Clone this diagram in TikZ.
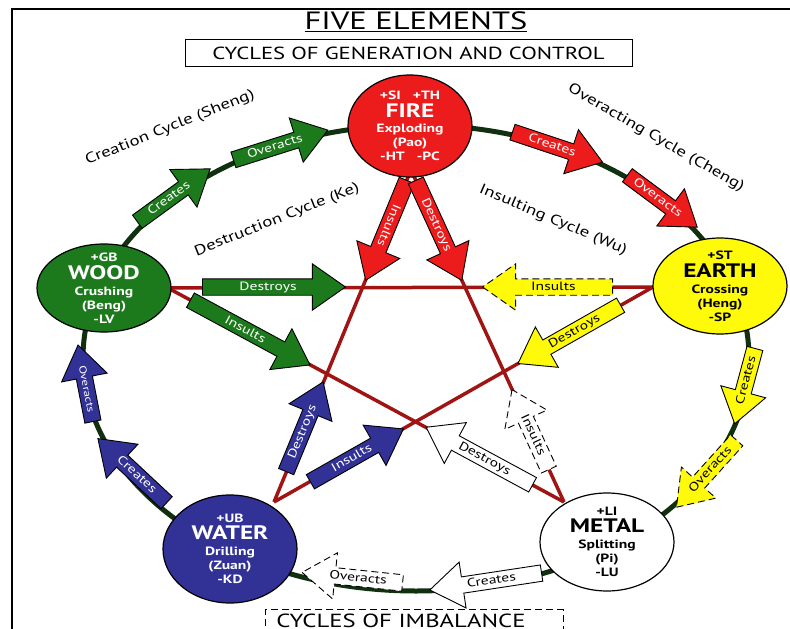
\documentclass[tikz,border=0pt]{standalone}
\usepackage{fontspec}
\setmainfont[FakeStretch=1.3]{PT Sans}
\usetikzlibrary{shapes.geometric,shapes.arrows}

\definecolor{woodgreen}{RGB}{28,122,28}
\definecolor{firered}{RGB}{236,28,28}
\definecolor{earthyellow}{RGB}{255,250,10}
\definecolor{waterblue}{RGB}{50,50,150}
\definecolor{starred}{RGB}{160,20,20}
\definecolor{ringgreen}{RGB}{16,48,16}

\begin{document}
\begin{tikzpicture}[x=1pt,y=-1pt]

    %--- Styles
    \tikzstyle{element}=[ellipse, draw=black, line width=1.2pt, inner sep=0pt]
    \tikzstyle{elem text}=[align=center, font=\bfseries\fontsize{12}{14}\selectfont]
    \tikzstyle{flow}=[single arrow, draw=black, line width=0.9pt, anchor=tail,
        single arrow tip angle=70, single arrow head extend=15pt,
        inner xsep=3pt, inner ysep=1.5pt, text height=9.5pt, text depth=3pt,
        font=\fontsize{12}{12}\selectfont]
    \tikzstyle{tipback}=[shape border rotate=180]
    \tikzstyle{imbalance}=[dash pattern=on 7pt off 4pt]
    \tikzstyle{cycle label}=[font=\fontsize{14.5}{14.5}\selectfont]
    \tikzstyle{star line}=[starred, line width=3.5pt]
    \tikzstyle{ring line}=[ringgreen, line width=5pt]

    \useasboundingbox (0,0) rectangle (790,629);

    %--- Frame and titles
    \draw[line width=1.2pt] (12,640) -- (12,9) -- (790,9);
    \node[font=\fontsize{25}{25}\selectfont] (title) at (416,22) {\underline{FIVE ELEMENTS}};
    \node[draw, line width=1pt, minimum width=447pt, minimum height=27pt,
          font=\fontsize{17.5}{17.5}\selectfont] (generation) at (408.5,53) {CYCLES OF GENERATION AND CONTROL};
    \node[draw, imbalance, line width=1pt, minimum width=298pt, minimum height=22pt,
          font=\fontsize{19}{19}\selectfont] (imbalance box) at (414,620.5) {CYCLES OF IMBALANCE\hspace*{26pt}};

    %--- Outer ring
    \coordinate (ring) at (416,358);
    \draw[ring line] (ring) ellipse [x radius=333pt, y radius=233pt];

    %--- Star points
    \coordinate (sF)  at (411,170);
    \coordinate (sWd) at (168,288);
    \coordinate (sE)  at (653,287);
    \coordinate (sWt) at (274,502);
    \coordinate (sM)  at (564,502);

    %--- Star
    \draw[star line] (sF) -- (sWt);
    \draw[star line] (sWt) -- (sE);
    \draw[star line] (sE) -- (sWd);
    \draw[star line] (sWd) -- (sM);
    \draw[star line] (sM) -- (sF);

    %--- Cycle names
    \node[cycle label, rotate=21.8] (sheng) at (170,128) {Creation Cycle (Sheng)};
    \node[cycle label, rotate=21.8] (ke)    at (277,220) {Destruction Cycle (Ke)};
    \node[cycle label, rotate=-30]  (cheng) at (656,138) {Overacting Cycle (Cheng)};
    \node[cycle label, rotate=-23]  (wu)    at (553,220) {Insulting Cycle (Wu)};

    %--- Wood arrows
    \node[flow, fill=woodgreen, text=white, rotate=36,    minimum height=90pt]  (gCreates)  at (137,222) {Creates};
    \node[flow, fill=woodgreen, text=white, rotate=17.5,  minimum height=99pt]  (gOveracts) at (233,160) {Overacts};
    \node[flow, fill=woodgreen, text=white, rotate=0,     minimum height=143pt] (gDestroys) at (202,287) {Destroys};
    \node[flow, fill=woodgreen, text=white, rotate=-28.4, minimum height=136pt] (gInsults)  at (190,300) {Insults};

    %--- Fire arrows
    \node[flow, fill=firered, text=white, rotate=-18.4,  minimum height=95pt]  (rCreates)  at (512,132) {Creates};
    \node[flow, fill=firered, text=white, rotate=-36.6,  minimum height=87pt]  (rOveracts) at (627,175) {Overacts};
    \node[flow, fill=firered, text=white, rotate=-112.4, minimum height=108pt] (rInsults)  at (407,180) {Insults};
    \node[flow, fill=firered, text=white, rotate=-65.3,  minimum height=110pt] (rDestroys) at (415.6,180) {Destroys};

    %--- Water arrows
    \node[flow, tipback, fill=waterblue, text=white, rotate=-43, minimum height=94pt]  (bCreates)  at (167,503) {Creates};
    \node[flow, tipback, fill=waterblue, text=white, rotate=-79, minimum height=78pt,
          font=\fontsize{10}{10}\selectfont] (bOveracts) at (93,422) {Overacts};
    \node[flow, fill=waterblue, text=white, rotate=67.6, minimum height=97pt]  (bDestroys) at (286,472) {Destroys};
    \node[flow, fill=waterblue, text=white, rotate=29.6, minimum height=107pt] (bInsults)  at (310,482) {Insults};

    %--- Earth arrows
    \node[flow, tipback, imbalance, fill=earthyellow, rotate=0,    minimum height=130pt] (yInsults)  at (613,287) {Insults};
    \node[flow, tipback, fill=earthyellow,            rotate=29.6, minimum height=118pt] (yDestroys) at (621,305) {Destroys};
    \node[flow, tipback, fill=earthyellow,            rotate=75,   minimum height=78pt]  (yCreates)  at (755,348) {Creates};
    \node[flow, tipback, imbalance, fill=earthyellow, rotate=48,   minimum height=90pt]  (yOveracts) at (737,440) {Overacts};

    %--- Metal arrows
    \node[flow, tipback, imbalance, fill=white, rotate=-65.3, minimum height=88pt]  (mInsults)  at (549,470) {Insults};
    \node[flow, tipback, fill=white,            rotate=-28.4, minimum height=121pt] (mDestroys) at (533,485) {Destroys};
    \node[flow, tipback, fill=white,            rotate=8.6,   minimum height=113pt] (mCreates)  at (542,573) {Creates};
    \node[flow, tipback, imbalance, fill=white, rotate=-6,    minimum height=101pt] (mOveracts) at (403,583) {Overacts};

    %--- Elements
    \node[element, fill=firered, minimum width=124pt, minimum height=102pt,
          label={[elem text, text=white]center:{+SI\quad+TH\\[3pt]{\fontsize{19.5}{19.5}\selectfont FIRE}\\[1pt]Exploding\\(Pao)\\-HT\quad-PC}}] (fire) at (410,126) {};
    \node[element, fill=woodgreen, minimum width=134pt, minimum height=88pt,
          label={[elem text, text=white]center:{+GB\\[3pt]{\fontsize{19.5}{19.5}\selectfont WOOD}\\[2pt]Crushing\\(Beng)\\-LV}}] (wood) at (104,288) {};
    \node[element, fill=earthyellow, minimum width=134pt, minimum height=96pt,
          label={[elem text]center:{+ST\\[3pt]{\fontsize{19.5}{19.5}\selectfont EARTH}\\[2pt]Crossing\\(Heng)\\-SP}}] (earth) at (720,286) {};
    \node[element, fill=waterblue, minimum width=134pt, minimum height=108pt,
          label={[elem text, text=white]center:{+UB\\[3pt]{\fontsize{19.5}{19.5}\selectfont WATER}\\[2pt]Drilling\\(Zuan)\\-KD}}] (water) at (230,549) {};
    \node[element, fill=white, minimum width=134pt, minimum height=98pt,
          label={[elem text]center:{+LI\\[3pt]{\fontsize{19.5}{19.5}\selectfont METAL}\\[2pt]Splitting\\(Pi)\\-LU}}] (metal) at (607,542) {};

\end{tikzpicture}
\end{document}
